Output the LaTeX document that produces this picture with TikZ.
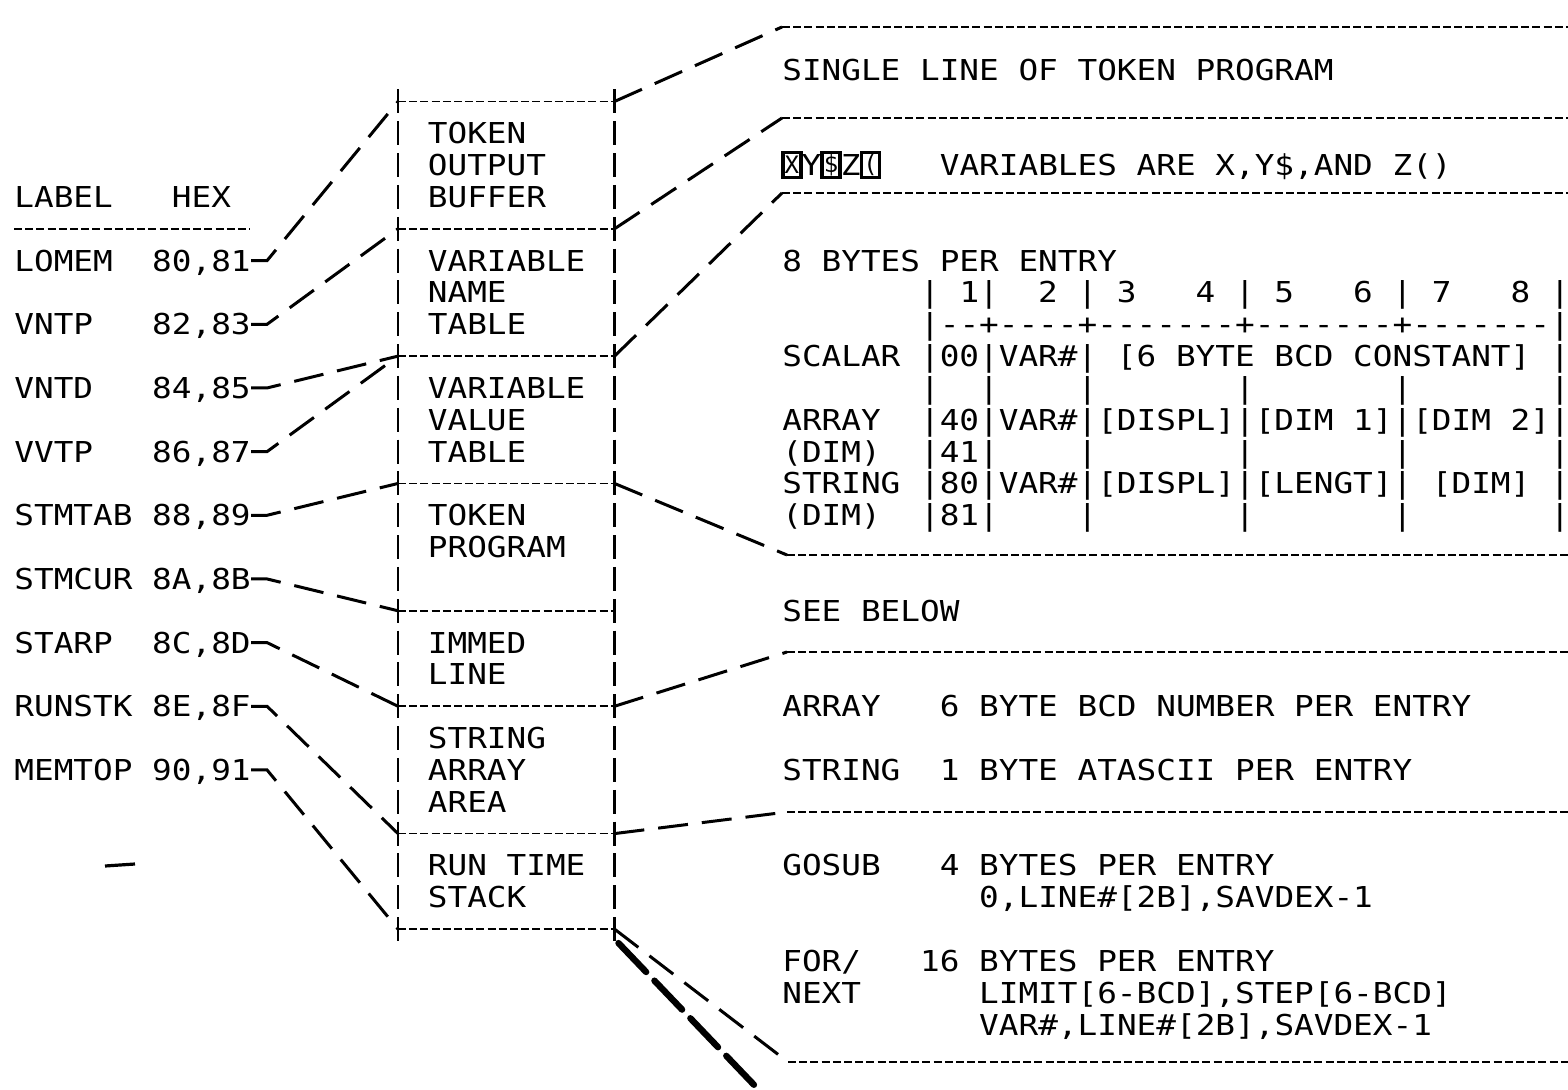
\documentclass[tikz,border=0pt]{standalone}
\usepackage{fontspec}
\setmonofont{DejaVu Sans Mono}
\usepackage{graphicx}
\usetikzlibrary{calc}
\newcommand{\colx}[1]{(14+19.69*(#1))}
\newcommand{\rowy}[1]{(101.5+31.83*(#1))}
\newcommand{\sq}[1]{\scalebox{1}[0.88]{#1}}
\begin{document}
\begin{tikzpicture}[x=0.5pt,y=-0.5pt,
  txt/.style={font=\ttfamily\fontsize{16.35pt}{18pt}\selectfont, inner sep=0pt, anchor=west, text height=10.5pt, text depth=0pt},
  ctxt/.style={txt, anchor=center},
  conn/.style={line width=1.5pt, dash pattern=on 15pt off 7pt},
  fine/.style={line width=0.9pt, dash pattern=on 4pt off 1.6pt},
  edgeline/.style={line width=1.3pt, dash pattern=on 12pt off 3.915pt},
  inv/.style={draw, line width=1.8pt, inner sep=0pt, minimum width=9pt, minimum height=12.5pt, font=\ttfamily\fontsize{12pt}{12pt}\selectfont},
  brush/.style={line width=3.2pt, dash pattern=on 20pt off 6pt, line cap=round}]
\useasboundingbox (0,0) rectangle (1568,1090);

% ---------- left column: labels ----------
\node[txt] (hdr) at ({\colx{0}},{\rowy{3}}) {\sq{LABEL~~~HEX}};
\coordinate (ulA) at ({\colx{0}},{\rowy{4}});
\coordinate (ulB) at ({\colx{12}},{\rowy{4}});
\draw[fine] (ulA) -- (ulB);
\node[txt] (lomem)  at ({\colx{0}},{\rowy{5}})  {\sq{LOMEM~~80,81}};
\node[txt] (vntp)   at ({\colx{0}},{\rowy{7}})  {\sq{VNTP~~~82,83}};
\node[txt] (vntd)   at ({\colx{0}},{\rowy{9}})  {\sq{VNTD~~~84,85}};
\node[txt] (vvtp)   at ({\colx{0}},{\rowy{11}}) {\sq{VVTP~~~86,87}};
\node[txt] (stmtab) at ({\colx{0}},{\rowy{13}}) {\sq{STMTAB~88,89}};
\node[txt] (stmcur) at ({\colx{0}},{\rowy{15}}) {\sq{STMCUR~8A,8B}};
\node[txt] (starp)  at ({\colx{0}},{\rowy{17}}) {\sq{STARP~~8C,8D}};
\node[txt] (runstk) at ({\colx{0}},{\rowy{19}}) {\sq{RUNSTK~8E,8F}};
\node[txt] (memtop) at ({\colx{0}},{\rowy{21}}) {\sq{MEMTOP~90,91}};

% ---------- memory box ----------
\foreach \r in {0,4,8,12,16,19,23,26} {
  \coordinate (bl\r) at (398,{\rowy{\r}});
  \coordinate (br\r) at (614.5,{\rowy{\r}});
  \draw[fine] (bl\r) -- (br\r);
}
\coordinate (btl) at (398,{\rowy{0}-12});
\coordinate (bbl) at (398,{\rowy{26}+12});
\coordinate (btr) at (614.5,{\rowy{0}-12});
\coordinate (bbr) at (614.5,{\rowy{26}+12});
\draw[edgeline] (btl) -- (bbl);
\draw[edgeline] (btr) -- (bbr);

\node[txt] (m1)  at ({\colx{21}},{\rowy{1}})  {\sq{TOKEN}};
\node[txt] (m2)  at ({\colx{21}},{\rowy{2}})  {\sq{OUTPUT}};
\node[txt] (m3)  at ({\colx{21}},{\rowy{3}})  {\sq{BUFFER}};
\node[txt] (m5)  at ({\colx{21}},{\rowy{5}})  {\sq{VARIABLE}};
\node[txt] (m6)  at ({\colx{21}},{\rowy{6}})  {\sq{NAME}};
\node[txt] (m7)  at ({\colx{21}},{\rowy{7}})  {\sq{TABLE}};
\node[txt] (m9)  at ({\colx{21}},{\rowy{9}})  {\sq{VARIABLE}};
\node[txt] (m10) at ({\colx{21}},{\rowy{10}}) {\sq{VALUE}};
\node[txt] (m11) at ({\colx{21}},{\rowy{11}}) {\sq{TABLE}};
\node[txt] (m13) at ({\colx{21}},{\rowy{13}}) {\sq{TOKEN}};
\node[txt] (m14) at ({\colx{21}},{\rowy{14}}) {\sq{PROGRAM}};
\node[txt] (m17) at ({\colx{21}},{\rowy{17}}) {\sq{IMMED}};
\node[txt] (m18) at ({\colx{21}},{\rowy{18}}) {\sq{LINE}};
\node[txt] (m20) at ({\colx{21}},{\rowy{20}}) {\sq{STRING}};
\node[txt] (m21) at ({\colx{21}},{\rowy{21}}) {\sq{ARRAY}};
\node[txt] (m22) at ({\colx{21}},{\rowy{22}}) {\sq{AREA}};
\node[txt] (m24) at ({\colx{21}},{\rowy{24}}) {\sq{RUN~TIME}};
\node[txt] (m25) at ({\colx{21}},{\rowy{25}}) {\sq{STACK}};

% ---------- left connectors ----------
\draw[conn] (lomem.east)  -- ++(16,0) -- (bl0);
\draw[conn] (vntp.east)   -- ++(16,0) -- (bl4);
\draw[conn] (vntd.east)   -- ++(16,0) -- (bl8);
\draw[conn] (vvtp.east)   -- ++(16,0) -- (bl8);
\draw[conn] (stmtab.east) -- ++(16,0) -- (bl12);
\draw[conn] (stmcur.east) -- ++(16,0) -- (bl16);
\draw[conn] (starp.east)  -- ++(16,0) -- (bl19);
\draw[conn] (runstk.east) -- ++(16,0) -- (bl23);
\draw[conn] (memtop.east) -- ++(16,0) -- (bl26);

% ---------- right lines ----------
\coordinate (h1) at (782,27);   \coordinate (e1) at (1568,27);
\coordinate (h2) at (782,118);  \coordinate (e2) at (1568,118);
\coordinate (h3) at (782,193);  \coordinate (e3) at (1568,193);
\coordinate (h4) at (787,555);  \coordinate (e4) at (1568,555);
\coordinate (h5) at (787,652);  \coordinate (e5) at (1568,652);
\coordinate (h6) at (787,812);  \coordinate (e6) at (1568,812);
\coordinate (h7) at (788,1062); \coordinate (e7) at (1568,1062);
\foreach \i in {1,...,7} { \draw[fine] (h\i) -- (e\i); }
\draw[conn] (br0)  -- (h1);
\draw[conn] (br4)  -- (h2);
\draw[conn] (br8)  -- (h3);
\draw[conn] (br12) -- (h4);
\draw[conn] (br19) -- (h5);
\draw[conn] (br23) -- (h6);
\draw[conn] (br26) -- (h7);
\coordinate (bz) at (757,1088);
\draw[brush] ($(br26)+(4,14)$) -- (bz);

% ---------- right texts ----------
\node[txt] (t1) at ({\colx{39}},{\rowy{-1}}) {\sq{SINGLE~LINE~OF~TOKEN~PROGRAM}};
\node[inv] (ix) at ({\colx{39}+9.85},{\rowy{2}}) {X};
\node[ctxt] (iy) at ({\colx{40}+9.85},{\rowy{2}}) {\sq{Y}};
\node[inv] (id) at ({\colx{41}+9.85},{\rowy{2}}) {\$};
\node[ctxt] (iz) at ({\colx{42}+9.85},{\rowy{2}}) {\sq{Z}};
\node[inv] (ip) at ({\colx{43}+9.85},{\rowy{2}}) {(};
\node[txt] (t2) at ({\colx{47}},{\rowy{2}}) {\sq{VARIABLES~ARE~X,Y\$,AND~Z()}};
\node[txt] (t3) at ({\colx{39}},{\rowy{5}}) {\sq{8~BYTES~PER~ENTRY}};
\node[txt] (t4) at ({\colx{39}},{\rowy{6}}) {\sq{~~~~~~~|~1|~~2~|~3~~~4~|~5~~~6~|~7~~~8~|}};
\node[txt] (t5) at ({\colx{39}},{\rowy{7}}) {\sq{~~~~~~~|--+----+-------+-------+-------|}};
\node[txt] (t6) at ({\colx{39}},{\rowy{8}}) {\sq{SCALAR~|00|VAR\#|~[6~BYTE~BCD~CONSTANT]~|}};
\node[txt] (t7) at ({\colx{39}},{\rowy{9}}) {\sq{~~~~~~~|~~|~~~~|~~~~~~~|~~~~~~~|~~~~~~~|}};
\node[txt] (t8) at ({\colx{39}},{\rowy{10}}) {\sq{ARRAY~~|40|VAR\#|[DISPL]|[DIM~1]|[DIM~2]|}};
\node[txt] (t9) at ({\colx{39}},{\rowy{11}}) {\sq{(DIM)~~|41|~~~~|~~~~~~~|~~~~~~~|~~~~~~~|}};
\node[txt] (t10) at ({\colx{39}},{\rowy{12}}) {\sq{STRING~|80|VAR\#|[DISPL]|[LENGT]|~[DIM]~|}};
\node[txt] (t11) at ({\colx{39}},{\rowy{13}}) {\sq{(DIM)~~|81|~~~~|~~~~~~~|~~~~~~~|~~~~~~~|}};
\node[txt] (t12) at ({\colx{39}},{\rowy{16}}) {\sq{SEE~BELOW}};
\node[txt] (t13) at ({\colx{39}},{\rowy{19}}) {\sq{ARRAY~~~6~BYTE~BCD~NUMBER~PER~ENTRY}};
\node[txt] (t14) at ({\colx{39}},{\rowy{21}}) {\sq{STRING~~1~BYTE~ATASCII~PER~ENTRY}};
\node[txt] (t15) at ({\colx{39}},{\rowy{24}}) {\sq{GOSUB~~~4~BYTES~PER~ENTRY}};
\node[txt] (t16) at ({\colx{49}},{\rowy{25}}) {\sq{0,LINE\#[2B],SAVDEX-1}};
\node[txt] (t17) at ({\colx{39}},{\rowy{27}}) {\sq{FOR/~~~16~BYTES~PER~ENTRY}};
\node[txt] (t18) at ({\colx{39}},{\rowy{28}}) {\sq{NEXT~~~~~~LIMIT[6-BCD],STEP[6-BCD]}};
\node[txt] (t19) at ({\colx{49}},{\rowy{29}}) {\sq{VAR\#,LINE\#[2B],SAVDEX-1}};

% stray mark
\coordinate (sA) at (105,866); \coordinate (sB) at (135,864);
\draw[line width=1.6pt] (sA) -- (sB);
\end{tikzpicture}
\end{document}
